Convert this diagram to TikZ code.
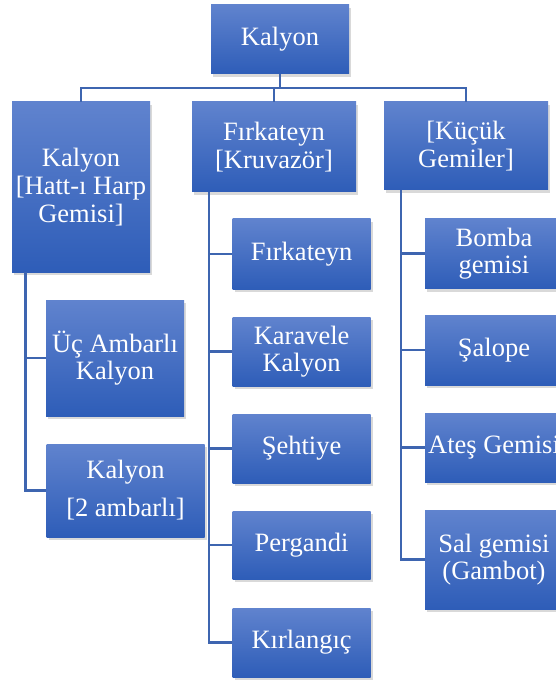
\documentclass[tikz,border=0pt]{standalone}
\usepackage{fontspec}
\setmainfont{Liberation Serif}
\newfontfamily\shipfont{Liberation Serif}
\usepackage{tikz}
\usetikzlibrary{shadows}
\definecolor{boxtop}{RGB}{96,131,206}
\definecolor{boxmid}{RGB}{68,113,198}
\definecolor{boxbot}{RGB}{46,93,184}
\definecolor{linkcol}{RGB}{62,101,176}
\begin{document}
\begin{tikzpicture}[x=1pt, y=-1pt,
  box/.style={rectangle, top color=boxtop, middle color=boxmid, bottom color=boxbot, text=white, align=center, inner sep=0pt,
    minimum width=138pt, font=\shipfont\fontsize{26.5}{27.6}\selectfont,
    drop shadow={opacity=0.3, shadow xshift=2pt, shadow yshift=-3pt}},
  link/.style={draw=linkcol, line width=2.6pt}]
\useasboundingbox (0,0) rectangle (555,684);
\coordinate (bus) at (0,88);
\node[box, minimum height=69pt](root) at (280,39.5){Kalyon};
\node[box, minimum height=170pt](hatt) at (81,187){Kalyon\\{[Hatt-ı Harp}\\Gemisi]};
\node[box, minimum width=164pt, minimum height=90pt](firk) at (274,147){Fırkateyn\\{[Kruvazör]}};
\node[box, minimum width=164pt, minimum height=88pt](kucuk) at (466,146){{[Küçük}\\Gemiler]};
\node[box, minimum height=116pt](uc) at (115,358){Üç Ambarlı\\Kalyon};
\node[box, minimum width=158pt, minimum height=93pt](iki) at (125.5,490.5){Kalyon\\[10.5pt]{[2 ambarlı]}};
\node[box, minimum height=70pt](f1) at (301.6,254){Fırkateyn};
\node[box, minimum height=69pt](kar) at (301.6,351.5){Karavele\\Kalyon};
\node[box, minimum height=69pt](seh) at (301.6,448.5){Şehtiye};
\node[box, minimum height=68pt](per) at (301.6,545){Pergandi};
\node[box, minimum height=69pt](kir) at (301.6,642.5){Kırlangıç};
\node[box, minimum height=70pt](bomba) at (494,253.5){Bomba\\gemisi};
\node[box, minimum height=70pt](salope) at (494,350){Şalope};
\node[box, minimum height=69pt](ates) at (494,447.5){Ateş Gemisi};
\node[box, minimum height=99pt](sal) at (494,559.5){Sal gemisi\\(Gambot)};
\draw[link] (root.south) -- (root.south |- bus);
\draw[link] (hatt.north) -- (hatt.north |- bus) -- (kucuk.north |- bus) -- (kucuk.north);
\draw[link] (firk.north) -- (firk.north |- bus);
\draw[link] ([xshift=13.4pt]hatt.south west) |- (uc.west);
\draw[link] ([xshift=13.4pt]hatt.south west) |- (iki.west);
\foreach \c in {f1,kar,seh,per,kir}
  \draw[link] ([xshift=17pt]firk.south west) |- (\c.west);
\foreach \c in {bomba,salope,ates,sal}
  \draw[link] ([xshift=17pt]kucuk.south west) |- (\c.west);
\end{tikzpicture}
\end{document}
